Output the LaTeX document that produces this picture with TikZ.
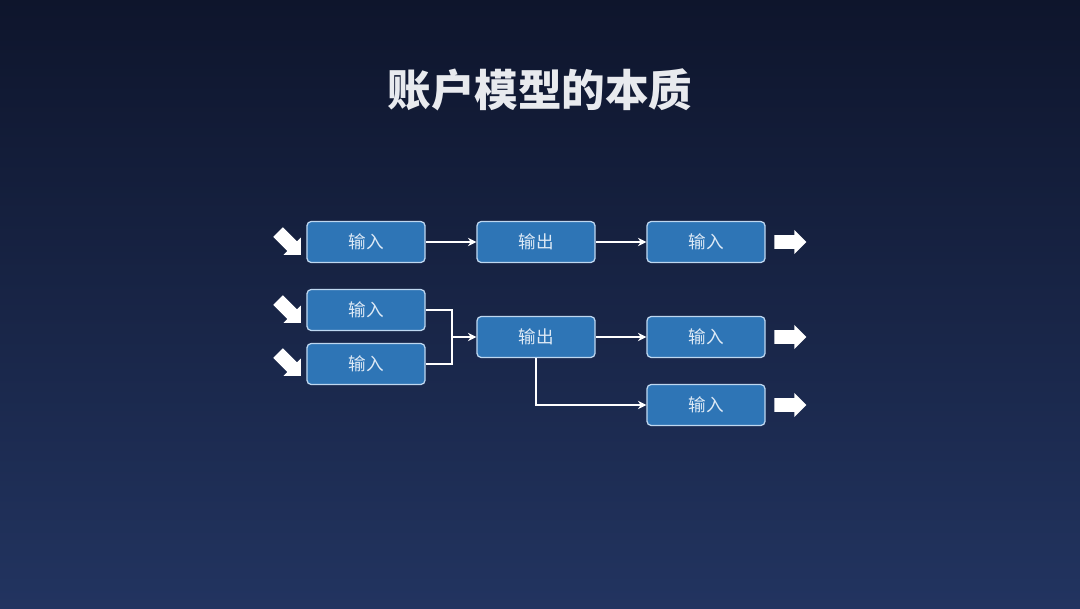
\documentclass[tikz,border=0pt]{standalone}
\usepackage{fontspec}
\setmainfont{Noto Sans CJK SC}
\usepackage{tikz}
\usetikzlibrary{arrows.meta,calc,positioning,shapes.arrows}

\definecolor{bgtop}{RGB}{14,21,44}
\definecolor{bgbot}{RGB}{34,52,96}
\definecolor{boxfill}{RGB}{46,117,182}
\definecolor{boxline}{RGB}{190,215,240}
\definecolor{boxtext}{RGB}{222,234,246}
\definecolor{titlecol}{RGB}{232,234,238}

\tikzset{
  stage/.style={draw=boxline,fill=boxfill,line width=0.9pt,rounded corners=3pt,
    minimum width=2.95cm,minimum height=1.025cm,inner sep=0pt,
    text=boxtext,font=\fontsize{12.5}{14}\selectfont},
  conn/.style={draw=white,line width=0.9pt},
  bigarrow/.style={single arrow,fill=white,draw=none,minimum height=0.8cm,
    inner sep=0.165cm,single arrow head extend=0.13cm}
}

\begin{document}
\begin{tikzpicture}[x=0.025cm,y=-0.025cm]
    % Hintergrund
    \shade[top color=bgtop,bottom color=bgbot] (0,0) rectangle (1080,608);
    \useasboundingbox (0,0) rectangle (1080,608);
    % Titel
    \node[text=titlecol,font=\fontsize{31}{36}\selectfont\bfseries] (title) at (540,90) {账户模型的本质};
    % Erste Zeile
    \node[stage] (inA) at (366,242) {输入};
    \node[stage] (outA) at (536,242) {输出};
    \node[stage] (inB) at (706,242) {输入};
    % Zweite Zeile
    \node[stage] (inC) at (366,310) {输入};
    \node[stage] (inD) at (366,364) {输入};
    \node[stage] (outB) at (536,337) {输出};
    \node[stage] (inE) at (706,337) {输入};
    \node[stage] (inF) at (706,405) {输入};
    \coordinate (join) at (452,337);
    % Verbindungen
    \draw[conn,-{Stealth[length=6pt,width=6pt]}] (inA) -- (outA);
    \draw[conn,-{Stealth[length=6pt,width=6pt]}] (outA) -- (inB);
    \draw[conn] (inC.east) -| (join);
    \draw[conn] (inD.east) -| (join);
    \draw[conn,-{Stealth[length=6pt,width=6pt]}] (join) -- (outB);
    \draw[conn,-{Stealth[length=6pt,width=6pt]}] (outB) -- (inE);
    \draw[conn,-{Stealth[length=6pt,width=6pt]}] (outB.south) |- (inF);
    % Blockpfeile
    \node[bigarrow,rotate=-45] (pinA) at (287,241) {};
    \node[bigarrow,rotate=-45] (pinC) at (287,309) {};
    \node[bigarrow,rotate=-45] (pinD) at (287,362) {};
    \node[bigarrow] (poutB) at (787,242) {};
    \node[bigarrow] (poutE) at (787,337) {};
    \node[bigarrow] (poutF) at (787,405) {};
\end{tikzpicture}
\end{document}
